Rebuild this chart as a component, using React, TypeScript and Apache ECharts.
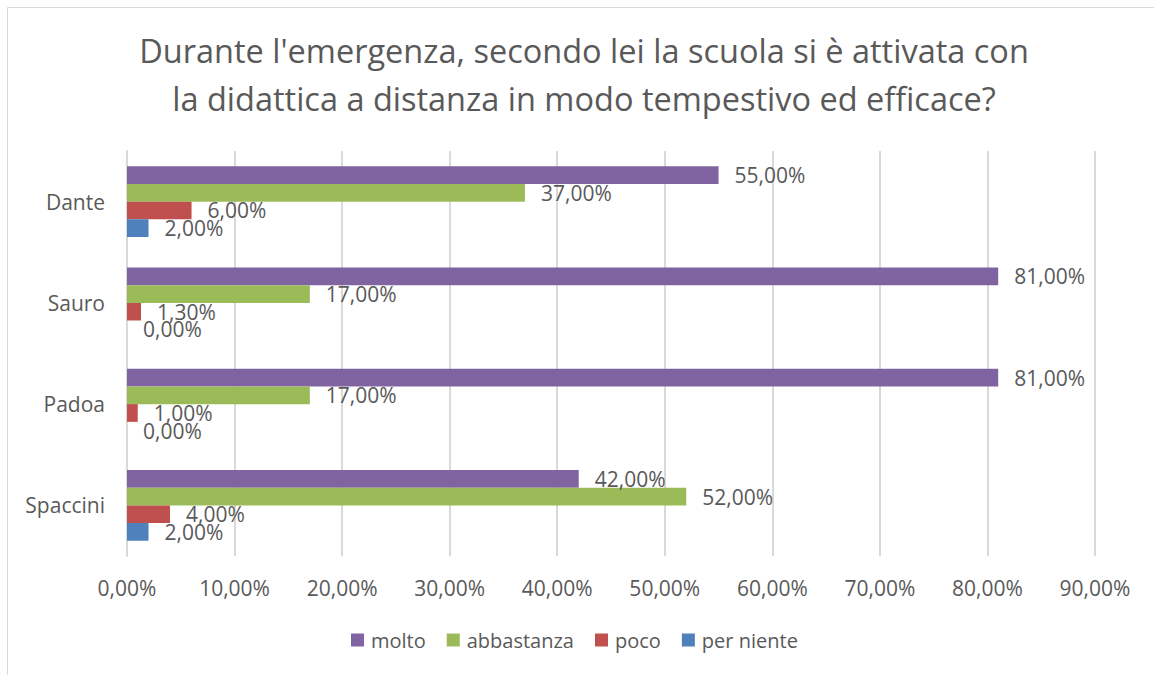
import React, { useEffect, useRef } from "react";
import * as echarts from "echarts";

const categories = ["Dante", "Sauro", "Padoa", "Spaccini"];
const seriesNames = ["molto", "abbastanza", "poco", "per niente"];
const molto = [55, 81, 81, 42];
const abbastanza = [37, 17, 17, 52];
const poco = [6, 1.3, 1, 4];
const perNiente = [2, 0, 0, 2];
const colors = ["#8064A2", "#9BBB59", "#C0504D", "#4F81BD"];
const title = "Durante l'emergenza, secondo lei la scuola si è attivata con\nla didattica a distanza in modo tempestivo ed efficace?";

const fmt = (v: number) => v.toFixed(2).replace(".", ",") + "%";
const FONT = "'Open Sans', sans-serif";
const TXT = "#595959";

export default function App() {
  const ref = useRef<HTMLDivElement>(null);
  useEffect(() => {
    document.body.style.margin = "0";
    document.body.style.overflow = "hidden";
    const chart = echarts.init(ref.current!, null, { renderer: "svg" });
    const data = [molto, abbastanza, poco, perNiente];
    chart.setOption({
      animation: false,
      backgroundColor: "#ffffff",
      textStyle: { fontFamily: FONT },
      title: {
        text: title,
        left: 579,
        textAlign: "center",
        top: 21,
        textStyle: { fontFamily: FONT, fontSize: 32.5, fontWeight: "normal", color: TXT, lineHeight: 48 },
      },
      legend: {
        bottom: 20,
        left: 346,
        itemWidth: 13,
        itemHeight: 13,
        itemGap: 21,
        icon: "rect",
        textStyle: { fontFamily: FONT, fontSize: 20, color: TXT, padding: [0, 0, 0, 2] },
        data: seriesNames,
      },
      graphic: [
        {
          type: "rect",
          shape: { x: 7.5, y: 7.5, width: 1200, height: 700 },
          style: { fill: "none", stroke: "#d9d9d9", lineWidth: 1 },
          silent: true,
        },
      ],
      grid: { left: 127, right: 59, top: 151, bottom: 119, containLabel: false },
      xAxis: {
        type: "value",
        min: 0,
        max: 90,
        interval: 10,
        axisLine: { show: false },
        axisTick: { show: false },
        splitLine: { show: true, lineStyle: { color: "#d9d9d9", width: 2 } },
        axisLabel: { formatter: (v: number) => fmt(v), fontFamily: FONT, fontSize: 21, color: TXT, margin: 21 },
      },
      yAxis: {
        type: "category",
        data: categories,
        inverse: true,
        axisLine: { show: true, lineStyle: { color: "#d9d9d9", width: 2 } },
        axisTick: { show: false },
        axisLabel: { fontFamily: FONT, fontSize: 21, color: TXT, margin: 22 },
      },
      series: seriesNames.map((name, i) => ({
        name,
        type: "bar",
        data: data[i],
        barGap: "0%",
        barCategoryGap: "30%",
        itemStyle: { color: colors[i] },
        label: {
          show: true,
          position: "right",
          distance: 16,
          formatter: (p: any) => fmt(p.value),
          fontFamily: FONT,
          fontSize: 21,
          color: TXT,
        },
      })),
    });
    return () => chart.dispose();
  }, []);
  return <div ref={ref} style={{ width: 1154, height: 675 }} />;
}
